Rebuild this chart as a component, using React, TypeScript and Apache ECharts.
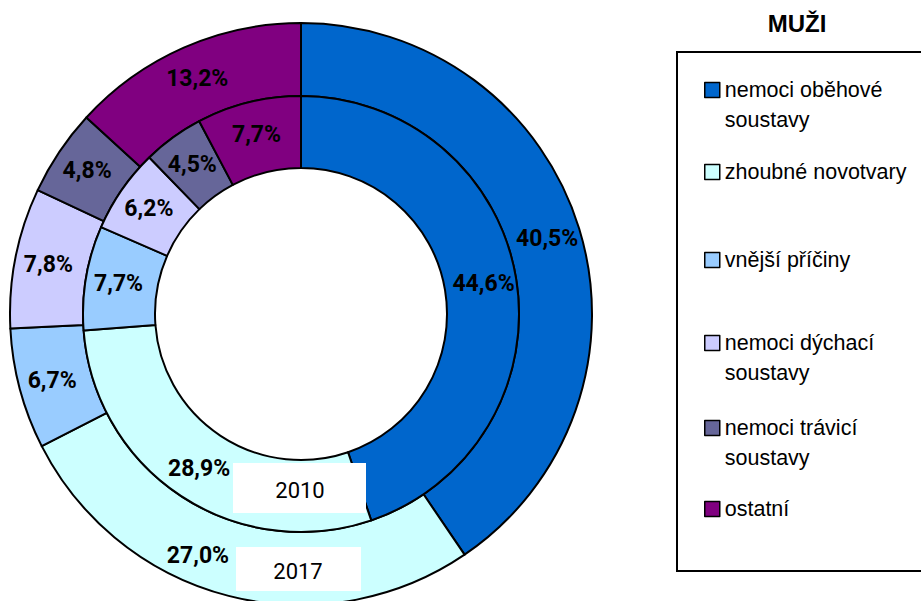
import React, { useEffect, useRef } from "react";
import * as echarts from "echarts";

// ---- data ----
const categories: string[] = [
  "nemoci oběhové soustavy",
  "zhoubné novotvary",
  "vnější příčiny",
  "nemoci dýchací soustavy",
  "nemoci trávicí soustavy",
  "ostatní",
];
const legendLabels: string[][] = [
  ["nemoci oběhové", "soustavy"],
  ["zhoubné novotvary"],
  ["vnější příčiny"],
  ["nemoci dýchací", "soustavy"],
  ["nemoci trávicí", "soustavy"],
  ["ostatní"],
];
const values2017: number[] = [40.5, 27.0, 6.7, 7.8, 4.8, 13.2];
const values2010: number[] = [44.6, 28.9, 7.7, 6.2, 4.5, 7.7];
const yearLabels: string[] = ["2010", "2017"];
const chartTitle = "MUŽI";
const colors: string[] = ["#0066CC", "#CCFFFF", "#99CCFF", "#CCCCFF", "#666699", "#800080"];

// ---- layout ----
const CX = 301;
const CY = 314;
const legendCenters = [90, 172, 260, 343, 428, 509];
const narrow = "Roboto, 'Liberation Sans', sans-serif";
const sans = "'Liberation Sans', Arial, sans-serif";

const fmt = (v: number) => v.toFixed(1).replace(".", ",") + "%";

export default function App() {
  const ref = useRef<HTMLDivElement>(null);
  useEffect(() => {
    if (!ref.current) return;
    const chart = echarts.init(ref.current, undefined, { renderer: "svg" });
    const labelStyle = {
      show: true,
      position: "inside",
      color: "#000",
      fontFamily: narrow,
      fontWeight: "bold",
      fontSize: 23,
      formatter: (p: any) => fmt(p.value),
    };
    const mkData = (vals: number[]) =>
      categories.map((name, i) => ({
        name,
        value: vals[i],
        itemStyle: { color: colors[i] },
      }));
    const option: any = {
      animation: false,
      title: {
        text: chartTitle,
        left: 797,
        top: 11,
        textAlign: "center",
        padding: 0,
        textStyle: { fontSize: 24, fontWeight: "bold", fontFamily: sans, color: "#000" },
      },
      legend: categories.map((name, i) => ({
        data: [name],
        orient: "vertical",
        left: 704,
        top: legendCenters[i] - (legendLabels[i].length > 1 ? 45 : 15),
        padding: 0,
        itemWidth: 15,
        itemHeight: 15,
        icon: "rect",
        selectedMode: false,
        formatter: () =>
          legendLabels[i].length > 1 ? " \n" + legendLabels[i].join("\n") : legendLabels[i][0],
        itemStyle: { borderColor: "#000", borderWidth: 1.5 },
        textStyle: { fontSize: 21.5, fontFamily: sans, color: "#000", lineHeight: 30 },
      })),
      graphic: [
        {
          type: "rect",
          shape: { x: 677, y: 52, width: 270, height: 519 },
          style: { fill: "none", stroke: "#000", lineWidth: 2 },
          z: 1,
        },
        {
          type: "rect",
          shape: { x: 233, y: 463, width: 133, height: 50 },
          style: { fill: "#fff" },
          z: 100,
        },
        {
          type: "text",
          x: 300,
          y: 490,
          style: {
            text: yearLabels[0],
            fontSize: 22,
            fontFamily: narrow,
            fill: "#000",
            align: "center",
            verticalAlign: "middle",
          },
          z: 101,
        },
        {
          type: "rect",
          shape: { x: 236, y: 547, width: 125, height: 44 },
          style: { fill: "#fff" },
          z: 100,
        },
        {
          type: "text",
          x: 298,
          y: 571,
          style: {
            text: yearLabels[1],
            fontSize: 22,
            fontFamily: narrow,
            fill: "#000",
            align: "center",
            verticalAlign: "middle",
          },
          z: 101,
        },
      ],
      series: [
        {
          name: yearLabels[1],
          type: "pie",
          center: [CX, CY],
          radius: [218, 291],
          startAngle: 90,
          clockwise: true,
          avoidLabelOverlap: false,
          itemStyle: { borderColor: "#000", borderWidth: 2 },
          label: labelStyle,
          labelLine: { show: false },
          labelLayout: (p: any) => (p.dataIndex === 1 ? { dx: -39, dy: -8 } : {}),
          emphasis: { disabled: true },
          data: mkData(values2017),
        },
        {
          name: yearLabels[0],
          type: "pie",
          center: [CX, CY],
          radius: [146, 218],
          startAngle: 90,
          clockwise: true,
          avoidLabelOverlap: false,
          itemStyle: { borderColor: "#000", borderWidth: 2 },
          label: labelStyle,
          labelLine: { show: false },
          emphasis: { disabled: true },
          data: mkData(values2010),
        },
      ],
    };
    chart.setOption(option);
    return () => chart.dispose();
  }, []);
  return (
    <div
      ref={ref}
      style={{ position: "fixed", left: 0, top: 0, width: 921, height: 601, background: "#fff" }}
    />
  );
}
